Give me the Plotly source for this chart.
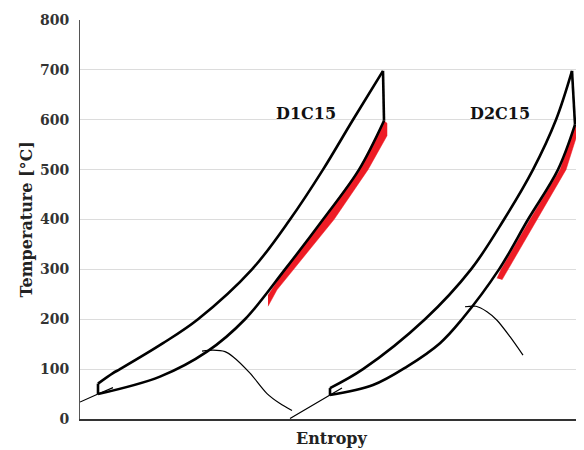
import plotly.graph_objects as go

# Entropy in arbitrary units, temperature in degC
# ---- D1C15 cycle ----
d1_high_s = [0.18, 0.33, 0.40, 0.83, 1.18, 1.72, 2.10, 2.43, 2.73, 3.03]
d1_high_T = [71, 92, 100, 152, 200, 300, 400, 500, 600, 698]
d1_top_s = [3.03, 3.04]
d1_top_T = [698, 598]
d1_low_s = [3.04, 2.79, 2.43, 2.05, 1.65, 1.27, 0.80, 0.18]
d1_low_T = [598, 500, 400, 300, 200, 135, 85, 50]
d1_left_s = [0.18, 0.18]
d1_left_T = [50, 71]
d1_liq_s = [0.00, 0.18, 0.33]
d1_liq_T = [34, 50, 63]
d1_dome_s = [1.22, 1.33, 1.45, 1.53, 1.70, 1.87, 2.00, 2.12]
d1_dome_T = [136, 138, 135, 125, 92, 51, 31, 17]
d1_red_s = [1.88, 2.05, 2.43, 2.79, 3.04, 3.07, 3.07, 2.88, 2.54, 2.14, 1.97, 1.88]
d1_red_T = [248, 300, 400, 500, 598, 593, 568, 500, 400, 300, 259, 226]

# ---- D2C15 cycle ----
d2_high_s = [2.50, 2.83, 3.45, 3.91, 4.24, 4.53, 4.76, 4.92]
d2_high_T = [62, 100, 200, 300, 400, 500, 600, 698]
d2_top_s = [4.92, 4.95]
d2_top_T = [698, 590]
d2_low_s = [4.95, 4.78, 4.48, 4.19, 3.82, 3.60, 3.27, 2.93, 2.50]
d2_low_T = [590, 500, 400, 300, 200, 152, 105, 68, 48]
d2_left_s = [2.50, 2.50]
d2_left_T = [48, 62]
d2_liq_s = [2.10, 2.50, 2.62]
d2_liq_T = [1, 48, 62]
d2_dome_s = [3.85, 3.96, 4.07, 4.17, 4.30, 4.43]
d2_dome_T = [225, 226, 215, 198, 165, 128]
d2_red_s = [4.17, 4.21, 4.50, 4.80, 4.95, 4.99, 4.86, 4.57, 4.28, 4.22]
d2_red_T = [282, 300, 400, 500, 588, 582, 500, 400, 300, 279]

labels = ["D1C15", "D2C15"]
label_s = [2.26, 4.20]
label_T = [613, 613]

y_ticks = [0, 100, 200, 300, 400, 500, 600, 700, 800]

SERIF = "DejaVu Serif"
fig = go.Figure()

for rs, rt in [(d1_red_s, d1_red_T), (d2_red_s, d2_red_T)]:
    fig.add_trace(go.Scatter(x=rs, y=rt, mode="lines", fill="toself",
                             fillcolor="#ee1c25", line=dict(color="#ee1c25", width=0.5),
                             hoverinfo="skip", showlegend=False))

thin = dict(color="black", width=1.2)
for xs, ts in [(d1_liq_s, d1_liq_T), (d1_dome_s, d1_dome_T),
               (d2_liq_s, d2_liq_T), (d2_dome_s, d2_dome_T)]:
    fig.add_trace(go.Scatter(x=xs, y=ts, mode="lines",
                             line=dict(thin, shape="spline", smoothing=0.8),
                             showlegend=False))

thick = dict(color="black", width=2.6)
for xs, ts, sp in [(d1_high_s, d1_high_T, True), (d1_top_s, d1_top_T, False),
                   (d1_low_s, d1_low_T, True), (d1_left_s, d1_left_T, False),
                   (d2_high_s, d2_high_T, True), (d2_top_s, d2_top_T, False),
                   (d2_low_s, d2_low_T, True), (d2_left_s, d2_left_T, False)]:
    ln = dict(thick)
    if sp:
        ln.update(shape="spline", smoothing=1.0)
    fig.add_trace(go.Scatter(x=xs, y=ts, mode="lines", line=ln, showlegend=False))

for lab, s, t in zip(labels, label_s, label_T):
    fig.add_annotation(x=s, y=t, text=lab, showarrow=False,
                       font=dict(family=SERIF, size=16, color="#111", weight="bold"))

fig.add_annotation(xref="paper", yref="paper", x=0.5, y=-0.048, text="Entropy",
                   showarrow=False, yanchor="middle",
                   font=dict(family=SERIF, size=16, color="#222", weight="bold"))
fig.add_annotation(xref="paper", yref="paper", x=-0.107, y=0.5, text="Temperature [°C]",
                   showarrow=False, textangle=-90, xanchor="center", yanchor="middle",
                   font=dict(family=SERIF, size=16, color="#222", weight="bold"))

# page body has an 8px margin, so the figure is sized to fill the remaining window
fig.update_layout(
    width=576, height=442,
    margin=dict(l=72, r=0, t=12, b=31),
    plot_bgcolor="white", paper_bgcolor="white",
    showlegend=False,
)
fig.update_xaxes(range=[0, 5.04], showgrid=False, zeroline=False, showticklabels=False,
                 showline=True, linecolor="#333", linewidth=1.5, ticks="")
fig.update_yaxes(range=[0, 800], tickvals=y_ticks, showgrid=True, gridcolor="#dcdcdc",
                 gridwidth=1, zeroline=False, showline=True, linecolor="#555", linewidth=1,
                 ticks="", ticklabelstandoff=7,
                 tickfont=dict(family=SERIF, size=14, color="#333", weight="bold"))

fig.write_html("out.html")
